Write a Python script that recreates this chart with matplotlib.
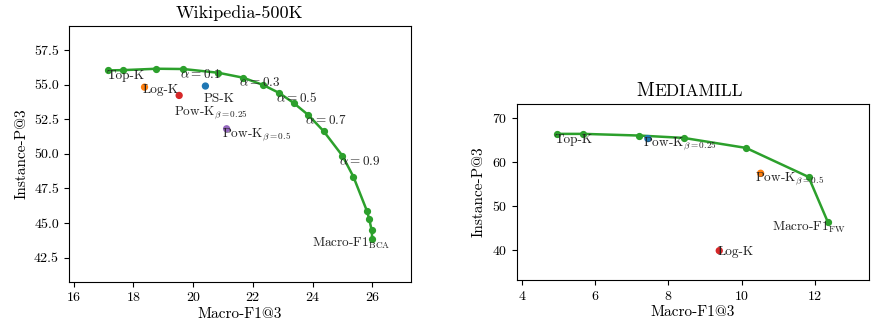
import matplotlib
matplotlib.use("Agg")
import matplotlib.pyplot as plt

plt.rcParams['font.family'] = ['cmr10', 'DejaVu Serif']
plt.rcParams['mathtext.fontset'] = 'cm'
plt.rcParams['axes.formatter.use_mathtext'] = True
plt.rcParams['axes.unicode_minus'] = False

# ---- Wikipedia-500K data ----
wiki_curve_x = [17.13, 17.66, 18.77, 19.67, 20.84, 21.68, 22.35, 22.89, 23.37, 23.86,
                24.37, 25.00, 25.37, 25.82, 25.90, 25.98, 26.00]
wiki_curve_y = [56.03, 56.05, 56.15, 56.13, 55.86, 55.50, 54.97, 54.39, 53.67, 52.80,
                51.64, 49.86, 48.34, 45.88, 45.27, 44.48, 43.83]
wiki_pts_names = ['Log-K', 'Pow-K0.25', 'PS-K', 'Pow-K0.5']
wiki_pts_x = [18.37, 19.53, 20.41, 21.12]
wiki_pts_y = [54.82, 54.22, 54.90, 51.81]
wiki_pts_colors = ['tab:orange', 'tab:red', 'tab:blue', 'tab:purple']
wiki_labels = ['Top-K', 'Log-K', 'PS-K', r'Pow-K$_{\beta=0.25}$', r'Pow-K$_{\beta=0.5}$',
               r'$\alpha = 0.1$', r'$\alpha = 0.3$', r'$\alpha = 0.5$', r'$\alpha = 0.7$',
               r'$\alpha = 0.9$', r'Macro-F1$_{\mathrm{BCA}}$']
wiki_label_x = [17.10, 18.30, 20.34, 19.36, 20.97, 19.56, 21.55, 22.76, 23.74, 24.89, 23.99]
wiki_label_y = [55.62, 54.61, 53.98, 52.98, 51.42, 55.76, 55.14, 54.03, 52.44, 49.45, 43.50]
wiki_xticks = [16, 18, 20, 22, 24, 26]
wiki_yticks = [42.5, 45.0, 47.5, 50.0, 52.5, 55.0, 57.5]

# ---- Mediamill data ----
mm_curve_x = [4.95, 5.68, 7.21, 8.42, 10.12, 11.83, 12.36]
mm_curve_y = [66.36, 66.36, 65.98, 65.44, 63.17, 56.56, 46.23]
mm_pts_names = ['Pow-K0.25', 'Pow-K0.5', 'Log-K']
mm_pts_x = [7.44, 10.52, 9.39]
mm_pts_y = [65.29, 57.40, 39.78]
mm_pts_colors = ['tab:blue', 'tab:orange', 'tab:red']
mm_labels = ['Top-K', r'Pow-K$_{\beta=0.25}$', r'Pow-K$_{\beta=0.5}$',
             r'Macro-F1$_{\mathrm{FW}}$', 'Log-K']
mm_label_x = [4.90, 7.30, 10.38, 10.84, 9.34]
mm_label_y = [65.0, 64.23, 56.18, 45.0, 39.4]
mm_xticks = [4, 6, 8, 10, 12]
mm_yticks = [40, 50, 60, 70]

fig = plt.figure(figsize=(8.72, 3.31), dpi=100)
ax1 = fig.add_axes([0.0788, 0.149, 0.3926, 0.7725])
ax2 = fig.add_axes([0.5925, 0.154, 0.404, 0.531])

green = '#2ca02c'
for ax, cx, cy, px, py, pc, lab, lx, ly in [
        (ax1, wiki_curve_x, wiki_curve_y, wiki_pts_x, wiki_pts_y, wiki_pts_colors,
         wiki_labels, wiki_label_x, wiki_label_y),
        (ax2, mm_curve_x, mm_curve_y, mm_pts_x, mm_pts_y, mm_pts_colors,
         mm_labels, mm_label_x, mm_label_y)]:
    ax.plot(cx, cy, '-o', color=green, lw=1.8, ms=4.2, zorder=2)
    ax.scatter(px, py, c=pc, s=18, zorder=3)
    for t, x, y in zip(lab, lx, ly):
        ax.text(x, y, t, ha='left', va='center', fontsize=9.5, color='#222222', zorder=4)
    ax.set_xlabel('Macro-F1@3', fontsize=11, labelpad=2)
    ax.set_ylabel('Instance-P@3', fontsize=11, labelpad=4)
    ax.tick_params(labelsize=10)

ax1.set_xlim(15.83, 27.3)
ax1.set_ylim(40.76, 59.24)
ax1.set_xticks(wiki_xticks)
ax1.set_yticks(wiki_yticks)
ax1.set_yticklabels([f'{v:.1f}' for v in wiki_yticks])
ax1.set_title('Wikipedia-500K', fontsize=13, pad=6)

ax2.set_xlim(3.855, 13.48)
ax2.set_ylim(33.1, 73.1)
ax2.set_xticks(mm_xticks)
ax2.set_yticks(mm_yticks)
ax2.text(0.39, 1.049, 'M', ha='right', va='baseline', transform=ax2.transAxes, fontsize=14)
ax2.text(0.39, 1.049, 'EDIAMILL', ha='left', va='baseline', transform=ax2.transAxes, fontsize=12.5)

fig.savefig('out.png', dpi=100)
